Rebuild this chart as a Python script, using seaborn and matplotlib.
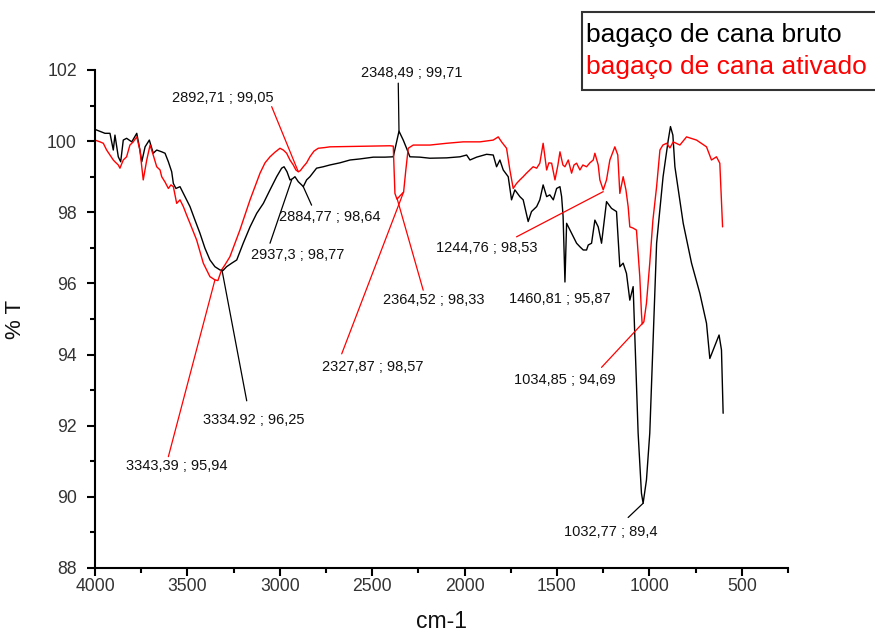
import matplotlib
matplotlib.use("Agg")
import matplotlib.pyplot as plt
from matplotlib.lines import Line2D
from matplotlib.ticker import MultipleLocator
import numpy as np
import pandas as pd
import seaborn as sns

# ---------------- data ----------------
bruto_cm = [4000, 3946, 3919, 3901, 3892, 3874, 3861, 3847, 3829, 3801, 3774, 3757, 3747, 3729,
            3706, 3685, 3666, 3639, 3621, 3603, 3585, 3576, 3562, 3540, 3513, 3486, 3459, 3432,
            3405, 3378, 3351, 3324, 3308, 3288, 3260, 3233, 3198, 3161, 3125, 3089, 3053, 3017,
            2990, 2977, 2961, 2945, 2932, 2918, 2900, 2882, 2873, 2855, 2837, 2801, 2765, 2729,
            2675, 2620, 2566, 2494, 2431, 2386, 2366, 2355, 2345, 2332, 2314, 2296, 2242, 2188,
            2097, 2025, 1989, 1971, 1935, 1881, 1845, 1827, 1809, 1791, 1764, 1746, 1728, 1701,
            1683, 1656, 1638, 1610, 1593, 1575, 1556, 1539, 1520, 1502, 1484, 1475, 1467, 1457,
            1448, 1421, 1394, 1376, 1358, 1340, 1331, 1313, 1295, 1277, 1259, 1232, 1205, 1178,
            1160, 1142, 1124, 1106, 1088, 1079, 1061, 1043, 1034, 1016, 998, 980, 961, 926, 898,
            886, 873, 862, 817, 772, 727, 691, 673, 655, 623, 610, 601]
bruto_T = [100.33, 100.22, 100.22, 99.75, 100.17, 99.56, 99.42, 100.03, 100.08, 99.98, 100.22, 99.75,
           99.42, 99.84, 100.03, 99.66, 99.75, 99.70, 99.66, 99.42, 99.14, 98.81, 98.67, 98.72,
           98.44, 98.16, 97.78, 97.41, 96.99, 96.66, 96.47, 96.38, 96.36, 96.47, 96.57, 96.66,
           97.13, 97.59, 97.97, 98.25, 98.63, 99.00, 99.24, 99.28, 99.14, 98.91, 98.94, 99.00,
           98.86, 98.77, 98.72, 98.91, 99.00, 99.24, 99.28, 99.33, 99.39, 99.47, 99.50, 99.55,
           99.55, 99.56, 100.03, 100.28, 100.17, 100.03, 99.80, 99.56, 99.55, 99.52, 99.53, 99.56,
           99.61, 99.47, 99.55, 99.63, 99.61, 99.28, 99.47, 99.19, 99.00, 98.35, 98.63, 98.44,
           98.35, 97.74, 98.02, 98.16, 98.35, 98.77, 98.44, 98.49, 98.35, 98.67, 98.72, 98.44,
           97.88, 96.04, 97.69, 97.41, 97.13, 97.03, 96.94, 96.94, 97.08, 97.13, 97.78, 97.59,
           97.13, 98.30, 98.11, 98.02, 96.47, 96.57, 96.28, 95.53, 95.91, 94.55, 91.79, 90.10,
           89.82, 90.47, 91.79, 94.41, 97.13, 99.00, 100.03, 100.41, 100.17, 99.28, 97.69, 96.57,
           95.72, 94.88, 93.89, 94.13, 94.55, 94.13, 92.35]

ativado_cm = [4000, 3973, 3955, 3937, 3919, 3901, 3892, 3874, 3865, 3847, 3829, 3811, 3793, 3774,
              3757, 3739, 3720, 3702, 3685, 3666, 3648, 3639, 3621, 3603, 3589, 3576, 3558, 3540,
              3522, 3504, 3486, 3450, 3414, 3378, 3351, 3335, 3315, 3297, 3270, 3216, 3161, 3107,
              3080, 3053, 3026, 2999, 2981, 2963, 2945, 2927, 2913, 2900, 2889, 2873, 2855, 2837,
              2815, 2792, 2756, 2729, 2620, 2512, 2404, 2386, 2377, 2366, 2350, 2330, 2318, 2305,
              2278, 2188, 2097, 2008, 1917, 1845, 1818, 1800, 1773, 1755, 1737, 1719, 1701, 1683,
              1665, 1647, 1629, 1610, 1593, 1575, 1556, 1544, 1529, 1511, 1495, 1484, 1468, 1457,
              1439, 1421, 1408, 1394, 1376, 1360, 1340, 1322, 1304, 1295, 1277, 1268, 1250, 1232,
              1214, 1187, 1171, 1160, 1142, 1127, 1115, 1106, 1090, 1070, 1052, 1043, 1039, 1030,
              1016, 998, 981, 961, 943, 927, 907, 889, 871, 835, 799, 745, 691, 664, 637, 619, 604]
ativado_T = [100.03, 99.98, 99.94, 99.75, 99.61, 99.47, 99.42, 99.33, 99.24, 99.47, 99.56, 99.89,
             99.98, 100.12, 99.75, 98.91, 99.47, 99.89, 99.61, 99.28, 99.19, 99.00, 98.85, 98.67,
             98.77, 98.72, 98.25, 98.35, 98.16, 97.92, 97.69, 97.22, 96.57, 96.19, 96.10, 96.08,
             96.38, 96.52, 96.75, 97.50, 98.35, 99.10, 99.39, 99.56, 99.69, 99.80, 99.75, 99.66,
             99.47, 99.33, 99.19, 99.14, 99.17, 99.28, 99.39, 99.56, 99.72, 99.80, 99.82, 99.84,
             99.85, 99.86, 99.87, 99.86, 98.53, 98.37, 98.46, 98.57, 99.19, 99.80, 99.89, 99.89,
             99.94, 99.98, 99.98, 100.03, 100.12, 99.98, 99.80, 99.19, 98.67, 98.81, 98.91, 99.00,
             99.10, 99.19, 99.28, 99.24, 99.38, 99.94, 99.19, 99.39, 99.38, 98.91, 99.33, 99.70,
             99.33, 99.28, 99.47, 99.10, 99.33, 99.38, 99.19, 99.33, 99.28, 99.39, 99.47, 99.66,
             99.33, 98.91, 98.63, 98.91, 99.47, 99.84, 99.61, 98.53, 99.00, 98.63, 98.16, 97.59,
             97.56, 97.50, 96.19, 95.16, 94.86, 94.92, 95.44, 96.57, 97.78, 98.72, 99.75, 99.89,
             99.94, 99.81, 99.98, 99.89, 100.12, 100.03, 99.84, 99.47, 99.56, 99.38, 97.59]

series_names = ["bagaço de cana bruto", "bagaço de cana ativado"]
series_colors = ["#000000", "#ff0000"]

x_ticks = [4000, 3500, 3000, 2500, 2000, 1500, 1000, 500]
y_ticks = [88, 90, 92, 94, 96, 98, 100, 102]

# annotations: label text, label centre, leader line (start -> end), leader colour
ann_text = ["2892,71 ; 99,05", "2348,49 ; 99,71", "2884,77 ; 98,64", "2937,3 ; 98,77",
            "3334.92 ; 96,25", "3343,39 ; 95,94", "2327,87 ; 98,57", "2364,52 ; 98,33",
            "1244,76 ; 98,53", "1460,81 ; 95,87", "1034,85 ; 94,69", "1032,77 ; 89,4"]
ann_x = [3307, 2285, 2729, 2904, 3141, 3556, 2496, 2166, 1879, 1484, 1459, 1211]
ann_y = [101.21, 101.92, 97.87, 96.80, 92.16, 90.87, 93.65, 95.53, 97.00, 95.56, 93.28, 89.01]
lead_x0 = [3044, 2359, 2828, 3053, 3179, 3603, 2665, 2224, 1719, None, 1259, 1115]
lead_y0 = [100.97, 101.63, 98.20, 97.13, 92.70, 91.13, 94.02, 95.81, 97.31, None, 93.64, 89.42]
lead_x1 = [2900, 2355, 2873, 2936, 3313, 3351, 2330, 2366, 1250, None, 1037, 1034]
lead_y1 = [99.14, 100.28, 98.72, 98.91, 96.38, 96.10, 98.57, 98.40, 98.58, None, 94.88, 89.82]
lead_color = ["#ff0000", "#000000", "#000000", "#000000", "#000000", "#ff0000",
              "#ff0000", "#ff0000", "#ff0000", None, "#ff0000", "#000000"]

# ---------------- figure ----------------
sns.set_style("ticks")
plt.rcParams["font.family"] = ["Liberation Sans", "DejaVu Sans"]

df = pd.concat([
    pd.DataFrame({"cm": bruto_cm, "T": bruto_T, "amostra": series_names[0]}),
    pd.DataFrame({"cm": ativado_cm, "T": ativado_T, "amostra": series_names[1]}),
], ignore_index=True)

W, H = 875, 633
fig = plt.figure(figsize=(W / 100, H / 100), dpi=100)
ax = fig.add_axes([95 / W, 1 - 568 / H, (788 - 95) / W, (568 - 70) / H])

sns.lineplot(data=df, x="cm", y="T", hue="amostra", hue_order=series_names,
             palette=dict(zip(series_names, series_colors)), sort=False, estimator=None,
             linewidth=1.0, legend=False, ax=ax)

ax.set_xlim(4000, 250)
ax.set_ylim(88, 102)
ax.set_xticks(x_ticks)
ax.set_yticks(y_ticks)
ax.xaxis.set_minor_locator(MultipleLocator(250))
ax.yaxis.set_minor_locator(MultipleLocator(1))
sns.despine(ax=ax)
for s in ["left", "bottom"]:
    ax.spines[s].set_linewidth(1.5)
    ax.spines[s].set_color("#000000")
ax.tick_params(axis="both", which="major", length=6, width=1.5, direction="out",
               labelsize=12.7, labelcolor="#333333", color="#000000")
ax.tick_params(axis="both", which="minor", length=3.5, width=1.5, direction="out", color="#000000")
ax.tick_params(axis="x", which="major", pad=1)
ax.tick_params(axis="y", which="major", pad=7)

ax.set_xlabel("cm-1", fontsize=16.5, color="#111111")
ax.xaxis.set_label_coords(0.5, -0.084)
ax.set_ylabel("% T", fontsize=16, color="#111111")
ax.yaxis.set_label_coords(-0.10, 0.5)

for i, t in enumerate(ann_text):
    ax.text(ann_x[i], ann_y[i], t, ha="center", va="center", fontsize=10.5, color="#111111")
    if lead_x0[i] is not None:
        ax.annotate("", xy=(lead_x1[i], lead_y1[i]), xytext=(lead_x0[i], lead_y0[i]),
                    arrowprops=dict(arrowstyle="-", color=lead_color[i], lw=0.9,
                                    shrinkA=0, shrinkB=0))

handles = [Line2D([], [], color="none") for _ in series_names]
leg = ax.legend(handles, series_names, loc="upper left",
                bbox_to_anchor=(581.7 / W, 1 - 11.7 / H), bbox_transform=fig.transFigure,
                handlelength=0, handletextpad=-0.25, borderaxespad=0, borderpad=0.42,
                labelspacing=0.3, fontsize=19, frameon=True, fancybox=False,
                edgecolor="#333333", framealpha=1, labelcolor=series_colors)
leg.get_frame().set_linewidth(1.5)

fig.savefig("out.png", dpi=100)
